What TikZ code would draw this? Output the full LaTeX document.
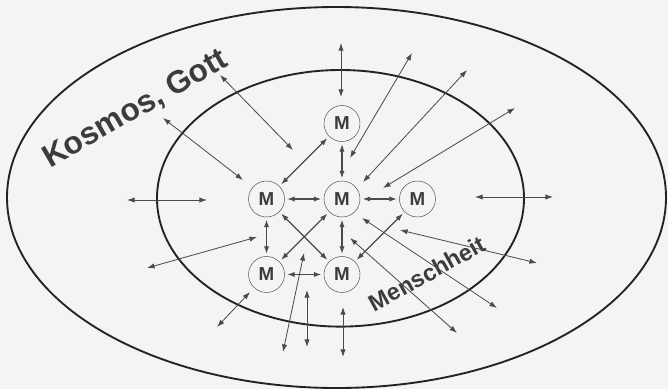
\documentclass[tikz,border=0pt]{standalone}
\usepackage{fontspec}
\setmainfont{Liberation Sans}
\usepackage{tikz}
\usetikzlibrary{arrows.meta,positioning}
\definecolor{ringgray}{RGB}{35,35,35}
\definecolor{linegray}{RGB}{75,75,75}
\definecolor{textgray}{RGB}{60,60,60}
\definecolor{paper}{RGB}{244,244,244}

\begin{document}
\begin{tikzpicture}[x=0.03cm,y=-0.03cm,node distance=1.17cm,
          mnode/.style={draw=linegray,circle,minimum size=1.08cm,inner sep=0pt,
                        font=\fontsize{16}{16}\selectfont\bfseries,text=textgray},
          ring/.style={draw=ringgray,line width=1.6pt},
          link/.style={<->,>={Latex[length=6.5pt,width=4.5pt]},linegray,
                       line width=1.1pt,shorten <=2pt,shorten >=2pt},
          ray/.style={<->,>={Latex[length=6.5pt,width=4.5pt]},linegray,line width=0.7pt}]
        \fill[paper] (0,0) rectangle (668,389);
        \useasboundingbox (0,0) rectangle (668,389);
        \draw[ring] (336.5,197.5) ellipse [x radius=329.5,y radius=190.5];
        \draw[ring] (340.5,198.3) ellipse [x radius=183.5,y radius=128.3];
        \node[font=\fontsize{27}{27}\selectfont\bfseries,text=textgray,
              rotate=30,anchor=base] (kosmos) at (140,117) {Kosmos, Gott};
        \node[font=\fontsize{20}{20}\selectfont\bfseries,text=textgray,
              rotate=29,anchor=base] (menschheit) at (431,281) {Menschheit};
        \node[mnode] (mc) at (342,199) {M};
        \node[mnode,above=of mc] (mt) {M};
        \node[mnode,left=of mc] (ml) {M};
        \node[mnode,right=of mc] (mr) {M};
        \node[mnode,below=of ml] (mbl) {M};
        \node[mnode,below=of mc] (mbc) {M};
        \draw[link] (mt)--(ml);
        \draw[link] (mt)--(mc);
        \draw[link] (ml)--(mc);
        \draw[link] (mc)--(mr);
        \draw[link] (ml)--(mbl);
        \draw[link] (mc)--(mbc);
        \draw[link] (mbl)--(mbc);
        \draw[link] (ml)--(mbc);
        \draw[link] (mc)--(mbl);
        \draw[link] (mr)--(mbc);
        \foreach \n/\ax/\ay/\bx/\by in {1/220/75/293/150,2/163/118/243/180,
            3/341/43/341/97,4/412/53/350/158,5/467/70/363/182,6/515/108/383/188,
            7/475/197/553/197,8/127/200/207/200,9/147/268/257/237,
            10/217/327/250/292,11/283/352/304/253,12/307/347/307/290,
            13/362/218/497/308,14/350/238/457/333,15/400/230/537/263,
            16/343/307/343/357}{
          \coordinate (ray\n a) at (\ax,\ay);
          \coordinate (ray\n b) at (\bx,\by);
          \draw[ray] (ray\n a)--(ray\n b);
        }
      \end{tikzpicture}
\end{document}
